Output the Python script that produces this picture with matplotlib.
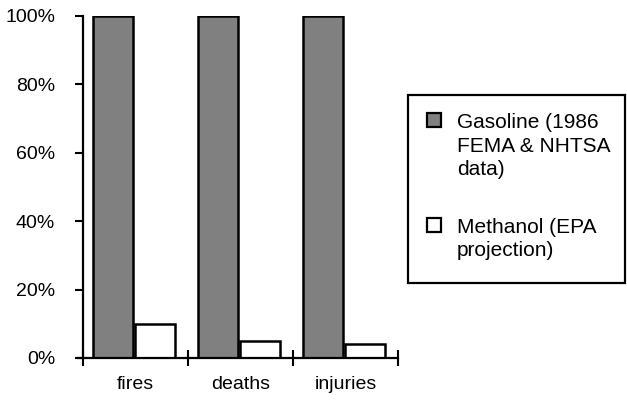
import matplotlib
matplotlib.use("Agg")
import matplotlib.pyplot as plt
import numpy as np
from matplotlib.patches import Rectangle

plt.rcParams['font.family'] = ['Liberation Sans', 'DejaVu Sans']

categories = ["fires", "deaths", "injuries"]
gasoline = [100, 100, 100]
methanol = [10, 5, 4]
series_labels = ["Gasoline (1986\nFEMA & NHTSA\ndata)", "Methanol (EPA\nprojection)"]
series_colors = ["#808080", "white"]
yticks = [0, 20, 40, 60, 80, 100]

W, H = 627, 400
fig = plt.figure(figsize=(W/100, H/100), dpi=100)
ax = fig.add_axes([83/W, 1-358/H, (398-83)/W, (358-16)/H])

x = np.arange(len(categories))
w = 0.38
ax.bar(x - 0.215, gasoline, w, color=series_colors[0], edgecolor="black", linewidth=1.8)
ax.bar(x + 0.185, methanol, w, color=series_colors[1], edgecolor="black", linewidth=1.8)

ax.set_xlim(-0.5, 2.5)
ax.set_ylim(0, 100)
ax.set_yticks(yticks)
ax.set_yticklabels([f"{v}%" for v in yticks])
ax.set_xticks([-0.5, 0.5, 1.5, 2.5])
ax.set_xticklabels([])
ax.set_xticks(x, minor=True)
ax.set_xticklabels(categories, minor=True)
ax.tick_params(axis='x', which='minor', length=0, pad=13, labelsize=14)
ax.tick_params(axis='x', which='major', direction='inout', length=11, width=1.5)
ax.tick_params(axis='y', direction='out', length=6, width=1.5, labelsize=14, pad=14)
for s in ["top", "right"]:
    ax.spines[s].set_visible(False)
ax.spines["left"].set_linewidth(1.6)
ax.spines["bottom"].set_linewidth(1.6)
ax.spines["bottom"].set_bounds(-0.55, 2.5)

# manual legend (figure pixel coordinates, y from top)
def fx(px):
    return px / W
def fy(py):
    return 1 - py / H

fig.patches.append(Rectangle((fx(408), fy(283)), fx(625) - fx(408), fy(95) - fy(283),
                             transform=fig.transFigure, facecolor="white",
                             edgecolor="black", linewidth=1.6, zorder=5))
handle_tops = [113, 218]
text_tops = [113, 218]
for lab, col, ht, tt in zip(series_labels, series_colors, handle_tops, text_tops):
    fig.patches.append(Rectangle((fx(427), fy(ht + 14)), fx(14), 14 / H,
                                 transform=fig.transFigure, facecolor=col,
                                 edgecolor="black", linewidth=1.6, zorder=6))
    fig.text(fx(457), fy(tt), lab, fontsize=15, va="top", ha="left",
             linespacing=1.3, zorder=7)

fig.savefig("out.png", dpi=100)
